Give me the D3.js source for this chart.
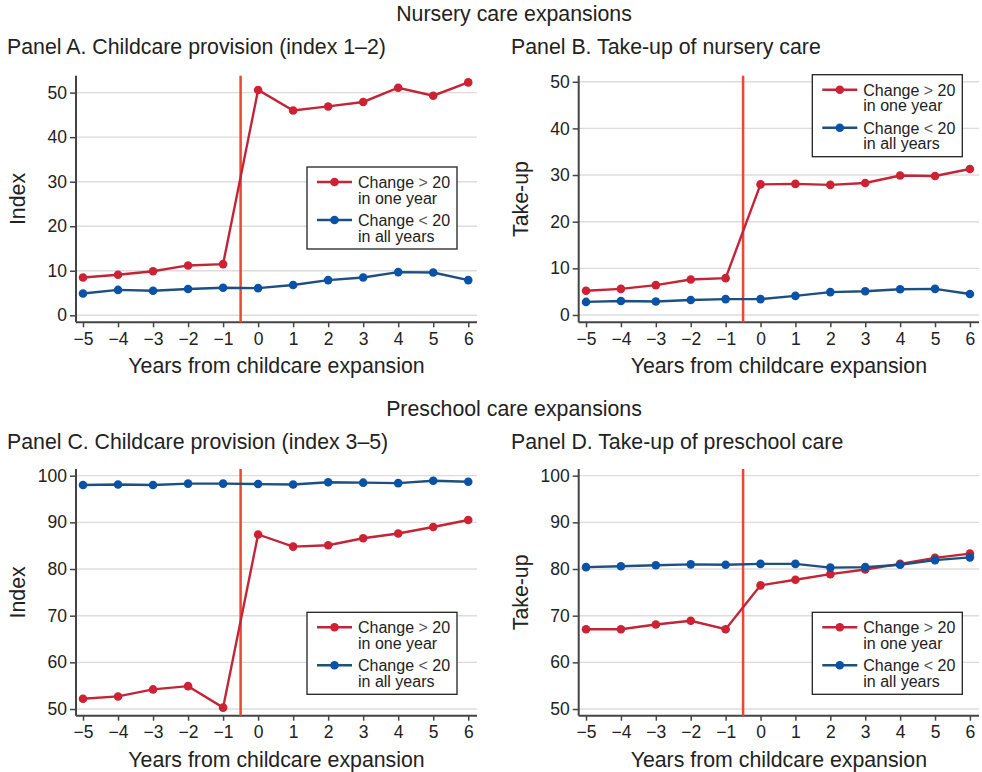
<!DOCTYPE html>
<html>
<head>
<meta charset="utf-8">
<script src="https://cdn.jsdelivr.net/npm/d3@7"></script>
<style>
  html, body { margin: 0; padding: 0; background: #fff; }
  svg { display: block; font-family: "Liberation Sans", Arial, Helvetica, sans-serif; }
</style>
</head>
<body>
<svg id="chart" width="982" height="772"></svg>
<script>
// ---------- DATA ----------
const years = [-5, -4, -3, -2, -1, 0, 1, 2, 3, 4, 5, 6];

const panelA_big   = [8.5, 9.1, 9.9, 11.2, 11.5, 50.6, 46.0, 46.9, 47.9, 51.1, 49.3, 52.3];
const panelA_small = [4.9, 5.7, 5.5, 5.9, 6.2, 6.1, 6.8, 7.9, 8.5, 9.7, 9.6, 7.9];

const panelB_big   = [5.2, 5.6, 6.4, 7.6, 7.9, 28.0, 28.1, 27.9, 28.3, 29.9, 29.8, 31.3];
const panelB_small = [2.8, 3.0, 2.9, 3.2, 3.4, 3.4, 4.1, 4.9, 5.1, 5.5, 5.6, 4.5];

const panelC_big   = [52.2, 52.7, 54.2, 54.9, 50.3, 87.4, 84.8, 85.1, 86.6, 87.6, 89.0, 90.5];
const panelC_small = [98.0, 98.1, 98.0, 98.3, 98.3, 98.2, 98.1, 98.6, 98.5, 98.4, 98.9, 98.7];

const panelD_big   = [67.1, 67.1, 68.1, 68.9, 67.1, 76.5, 77.7, 78.9, 79.9, 81.1, 82.4, 83.3];
const panelD_small = [80.4, 80.6, 80.8, 81.0, 80.9, 81.1, 81.1, 80.3, 80.4, 80.9, 81.9, 82.5];

const ticksLow  = [0, 10, 20, 30, 40, 50];
const ticksHigh = [50, 60, 70, 80, 90, 100];

const sectionTitles = ["Nursery care expansions", "Preschool care expansions"];
const panelTitles = [
  "Panel A. Childcare provision (index 1\u20132)",
  "Panel B. Take-up of nursery care",
  "Panel C. Childcare provision (index 3\u20135)",
  "Panel D. Take-up of preschool care"
];
const yTitles = ["Index", "Take-up", "Index", "Take-up"];
const xTitle = "Years from childcare expansion";
const legendLabels = [["Change ", ">", " 20", "in one year"], ["Change ", "<", " 20", "in all years"]];
const eventLine = -0.5;

// ---------- STYLE ----------
const RED_LINE = "#c22537", RED_DOT = "#cc2233";
const BLUE_LINE = "#1d4f80", BLUE_DOT = "#0a52a6";
const VLINE = "#ef4630";
const GRID = "#dcdcdc", AXIS = "#444", TEXT = "#222";
const BIG_FONT = 21.3, TICK_FONT = 17.5, LEG_FONT = 16;

const svg = d3.select("#chart");

// section titles
svg.append("text").attr("x", 514).attr("y", 21).attr("text-anchor", "middle")
  .attr("font-size", BIG_FONT).attr("fill", TEXT).text(sectionTitles[0]);
svg.append("text").attr("x", 514).attr("y", 416).attr("text-anchor", "middle")
  .attr("font-size", BIG_FONT).attr("fill", TEXT).text(sectionTitles[1]);

const panels = [
  { title: panelTitles[0], titleX: 7,   titleY: 54,  yTitle: yTitles[0], yTitleX: 25,
    x0: 76, x1: 477, xd: [-5.2, 6.25], y0: 75.7, y1: 322.3, yd: [-1.57, 53.8],
    ticks: ticksLow, big: panelA_big, small: panelA_small, leg: [307, 167] },
  { title: panelTitles[1], titleX: 511, titleY: 54, yTitle: yTitles[1], yTitleX: 528,
    x0: 578.7, x1: 979, xd: [-5.21, 6.26], y0: 75.7, y1: 322.3, yd: [-1.57, 51.3],
    ticks: ticksLow, big: panelB_big, small: panelB_small, leg: [812.3, 74.7] },
  { title: panelTitles[2], titleX: 7,   titleY: 449, yTitle: yTitles[2], yTitleX: 25,
    x0: 76, x1: 477, xd: [-5.2, 6.25], y0: 469, y1: 715.7, yd: [48.57, 101.43],
    ticks: ticksHigh, big: panelC_big, small: panelC_small, leg: [307, 612.3] },
  { title: panelTitles[3], titleX: 511, titleY: 449, yTitle: yTitles[3], yTitleX: 528,
    x0: 578.7, x1: 979, xd: [-5.21, 6.26], y0: 469, y1: 715.7, yd: [48.57, 101.43],
    ticks: ticksHigh, big: panelD_big, small: panelD_small, leg: [812.3, 612.3] }
];

panels.forEach(p => {
  const x = d3.scaleLinear().domain(p.xd).range([p.x0, p.x1]);
  const y = d3.scaleLinear().domain(p.yd).range([p.y1, p.y0]);
  const g = svg.append("g");

  // title
  g.append("text").attr("x", p.titleX).attr("y", p.titleY).attr("font-size", BIG_FONT)
    .attr("fill", TEXT).text(p.title);

  // gridlines
  g.append("g").selectAll("line").data(p.ticks).join("line")
    .attr("x1", p.x0).attr("x2", p.x1)
    .attr("y1", d => y(d)).attr("y2", d => y(d))
    .attr("stroke", GRID).attr("stroke-width", 1.4);

  // y axis
  const ya = g.append("g").attr("transform", `translate(${p.x0},0)`)
    .call(d3.axisLeft(y).tickValues(p.ticks).tickSize(6).tickPadding(3).tickSizeOuter(0));
  ya.select(".domain").attr("stroke", AXIS).attr("stroke-width", 2)
    .attr("d", `M0,${p.y0}V${p.y1}`);
  ya.selectAll(".tick line").attr("stroke", AXIS).attr("stroke-width", 1.5);
  ya.selectAll(".tick text").attr("font-size", TICK_FONT).attr("fill", TEXT)
    .attr("font-family", "Liberation Sans, Arial, sans-serif");

  // x axis
  const xa = g.append("g").attr("transform", `translate(0,${p.y1})`)
    .call(d3.axisBottom(x).tickValues(years).tickSize(5).tickPadding(5).tickSizeOuter(0));
  xa.select(".domain").attr("stroke", AXIS).attr("stroke-width", 2)
    .attr("d", `M${p.x0},0H${p.x1}`);
  xa.selectAll(".tick line").attr("stroke", AXIS).attr("stroke-width", 1.5);
  xa.selectAll(".tick text").attr("font-size", TICK_FONT).attr("fill", TEXT)
    .attr("font-family", "Liberation Sans, Arial, sans-serif");

  // axis titles
  g.append("text").attr("x", (p.x0 + p.x1) / 2).attr("y", p.y1 + 51)
    .attr("text-anchor", "middle").attr("font-size", BIG_FONT).attr("fill", TEXT).text(xTitle);
  g.append("text").attr("transform", `translate(${p.yTitleX},${(p.y0 + p.y1) / 2}) rotate(-90)`)
    .attr("text-anchor", "middle").attr("font-size", BIG_FONT).attr("fill", TEXT).text(p.yTitle);

  // event line
  g.append("line").attr("x1", x(eventLine)).attr("x2", x(eventLine))
    .attr("y1", p.y0).attr("y2", p.y1).attr("stroke", VLINE).attr("stroke-width", 2.5);

  const line = d3.line().x((d, i) => x(years[i])).y(d => y(d));
  const series = [[p.big, RED_LINE, RED_DOT], [p.small, BLUE_LINE, BLUE_DOT]];
  series.forEach(([vals, lc, dc]) => {
    g.append("path").datum(vals).attr("d", line).attr("fill", "none")
      .attr("stroke", lc).attr("stroke-width", 2.4);
    g.append("g").selectAll("circle").data(vals).join("circle")
      .attr("cx", (d, i) => x(years[i])).attr("cy", d => y(d)).attr("r", 4.3).attr("fill", dc);
  });

  // legend
  const [lx, ly] = p.leg;
  const lg = g.append("g").attr("transform", `translate(${lx},${ly})`);
  lg.append("rect").attr("x", 0).attr("y", 0).attr("width", 150).attr("height", 82)
    .attr("fill", "#fff").attr("stroke", "#222").attr("stroke-width", 1.3);
  const items = [[legendLabels[0], RED_LINE, RED_DOT, 15], [legendLabels[1], BLUE_LINE, BLUE_DOT, 53]];
  items.forEach(([lab, lc, dc, yy]) => {
    lg.append("line").attr("x1", 10).attr("x2", 45).attr("y1", yy).attr("y2", yy)
      .attr("stroke", lc).attr("stroke-width", 2.4);
    lg.append("circle").attr("cx", 27.5).attr("cy", yy).attr("r", 4.3).attr("fill", dc);
    const t = lg.append("text").attr("x", 51).attr("y", yy + 6).attr("font-size", LEG_FONT).attr("fill", TEXT);
    t.append("tspan").text(lab[0]);
    t.append("tspan").attr("fill", "#555").text(lab[1]);
    t.append("tspan").text(lab[2]);
    t.append("tspan").attr("x", 51).attr("dy", 15.5).text(lab[3]);
  });
});
</script>
</body>
</html>
